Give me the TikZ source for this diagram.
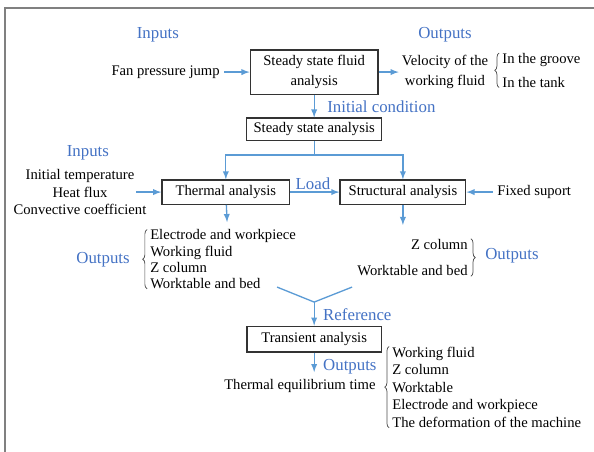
\documentclass[tikz,border=0pt]{standalone}
\usepackage{fontspec}
\setmainfont{Liberation Serif}
\usetikzlibrary{decorations.pathreplacing}

\definecolor{LabelColor}{RGB}{68,114,196}
\definecolor{ArrowColor}{RGB}{91,155,213}
\tikzstyle{ana-base}=[rectangle,
                      draw=black!80,
                      line width=0.9pt,
                      text centered,
                      inner sep=2pt,
                      font=\fontsize{10}{12}\selectfont
                     ]
\tikzstyle{analysis}=[ana-base,
                      minimum height=0.58cm]
\tikzstyle{bluelabel}=[text=LabelColor, inner sep=0pt, font=\fontsize{11.5}{13}\selectfont]
\tikzstyle{plain}=[inner sep=0pt, font=\fontsize{10}{12}\selectfont]
\tikzstyle{flow}=[ArrowColor, line width=0.9pt, -latex]
\tikzstyle{bracket}=[decorate, decoration={brace, amplitude=3pt}, black!70, line width=0.5pt]

\begin{document}
\begin{tikzpicture}
\useasboundingbox (0cm, 0cm) rectangle (14.256cm, -10.848cm);
\draw[gray, line width=1.2pt] (0.12cm, -10.848cm) -- (0.12cm, -0.19cm) -- (14.256cm, -0.19cm);

% steady state fluid
\node at (3.79cm, -0.84cm) (inputs_top) [bluelabel] {Inputs};
\node at (10.68cm, -0.84cm) (outputs_top) [bluelabel] {Outputs};
\node at (5.28cm, -1.73cm) (fan) [plain, anchor=east] {Fan pressure jump};
\node at (7.54cm, -1.73cm) (fluid_step) [analysis, minimum width=3.07cm, minimum height=1.06cm, align=center] {Steady state fluid\\[2pt]analysis};
\node at (10.68cm, -1.73cm) (velocity) [plain, align=center] {Velocity of the\\[1.5pt]working fluid};
\node at (12.05cm, -1.44cm) (groove) [plain, anchor=west] {In the groove};
\node at (12.05cm, -1.97cm) (tank) [plain, anchor=west] {In the tank};
\node at (7.85cm, -2.57cm) (init_cond) [bluelabel, anchor=west] {Initial condition};
\node at (7.54cm, -3.10cm) (steady_step) [analysis, minimum width=3.24cm, minimum height=0.53cm] {Steady state analysis};
\coordinate (split) at (7.54cm, -3.72cm);

% thermal and structural
\node at (2.11cm, -3.67cm) (inputs_mid) [bluelabel] {Inputs};
\node at (1.92cm, -4.61cm) (thermal_in) [plain, align=center] {Initial temperature\\Heat flux\\Convective coefficient};
\node at (5.42cm, -4.61cm) (thermal_step) [analysis, minimum width=3.07cm] {Thermal analysis};
\node at (9.67cm, -4.61cm) (struct_step) [analysis, minimum width=3.02cm] {Structural analysis};
\node at (7.51cm, -4.40cm) (load) [bluelabel] {Load};
\node at (11.93cm, -4.61cm) (support) [plain, anchor=west] {Fixed suport};
\coordinate (thermal_out) at (5.45cm, -5.33cm);
\coordinate (struct_out) at (9.67cm, -5.40cm);
\node at (3.6cm, -6.22cm) (thermal_list) [plain, anchor=west, align=left, font=\fontsize{10}{11}\selectfont] {Electrode and workpiece\\Working fluid\\Z column\\Worktable and bed};
\node at (3.12cm, -6.24cm) (outputs_left) [bluelabel, anchor=east] {Outputs};
\node at (11.23cm, -5.86cm) (z_col) [plain, anchor=east] {Z column};
\node at (11.23cm, -6.50cm) (table_bed) [plain, anchor=east] {Worktable and bed};
\node at (11.64cm, -6.14cm) (outputs_right) [bluelabel, anchor=west] {Outputs};

% transient
\coordinate (v_left) at (6.65cm, -6.89cm);
\coordinate (v_right) at (8.45cm, -6.89cm);
\coordinate (v_meet) at (7.54cm, -7.25cm);
\node at (7.75cm, -7.54cm) (reference) [bluelabel, anchor=west] {Reference};
\node at (7.54cm, -8.14cm) (transient_step) [analysis, minimum width=3.22cm, minimum height=0.62cm] {Transient analysis};
\coordinate (transient_out) at (7.54cm, -8.93cm);
\node at (7.75cm, -8.81cm) (outputs_bottom) [bluelabel, anchor=west] {Outputs};
\node at (9.02cm, -9.26cm) (equilibrium) [plain, anchor=east] {Thermal equilibrium time};
\node at (9.41cm, -9.29cm) (transient_list) [plain, anchor=west, align=left] {Working fluid\\Z column\\Worktable\\Electrode and workpiece\\The deformation of the machine};

\draw[bracket] ([xshift=-2pt]tank.south west) -- ([xshift=-2pt]groove.north west);
\draw[bracket] ([xshift=-2pt]thermal_list.south west) -- ([xshift=-2pt]thermal_list.north west);
\draw[bracket] ([xshift=2pt]z_col.north east) -- ([xshift=2pt]z_col.north east |- table_bed.south);
\draw[bracket] ([xshift=-2pt]transient_list.south west) -- ([xshift=-2pt]transient_list.north west);

\draw[flow] ([xshift=3pt]fan.east) -- (fluid_step);
\draw[flow] (fluid_step) -- ([xshift=-2pt]velocity.west);
\draw[flow] (fluid_step) -- (steady_step);
\draw[flow, -] (steady_step) -- (split);
\draw[flow] (split) -| (thermal_step);
\draw[flow] (split) -| (struct_step);
\draw[flow] ([xshift=-0.25cm]thermal_in.east) -- (thermal_step);
\draw[flow] (thermal_step) -- (struct_step);
\draw[flow] ([xshift=-3pt]support.west) -- (struct_step);
\draw[flow] (thermal_step) -- (thermal_out);
\draw[flow] (struct_step) -- (struct_out);
\draw[flow, -] (v_left) -- (v_meet) -- (v_right);
\draw[flow] (v_meet) -- (transient_step);
\draw[flow] (transient_step) -- (transient_out);

\end{tikzpicture}
\end{document}
